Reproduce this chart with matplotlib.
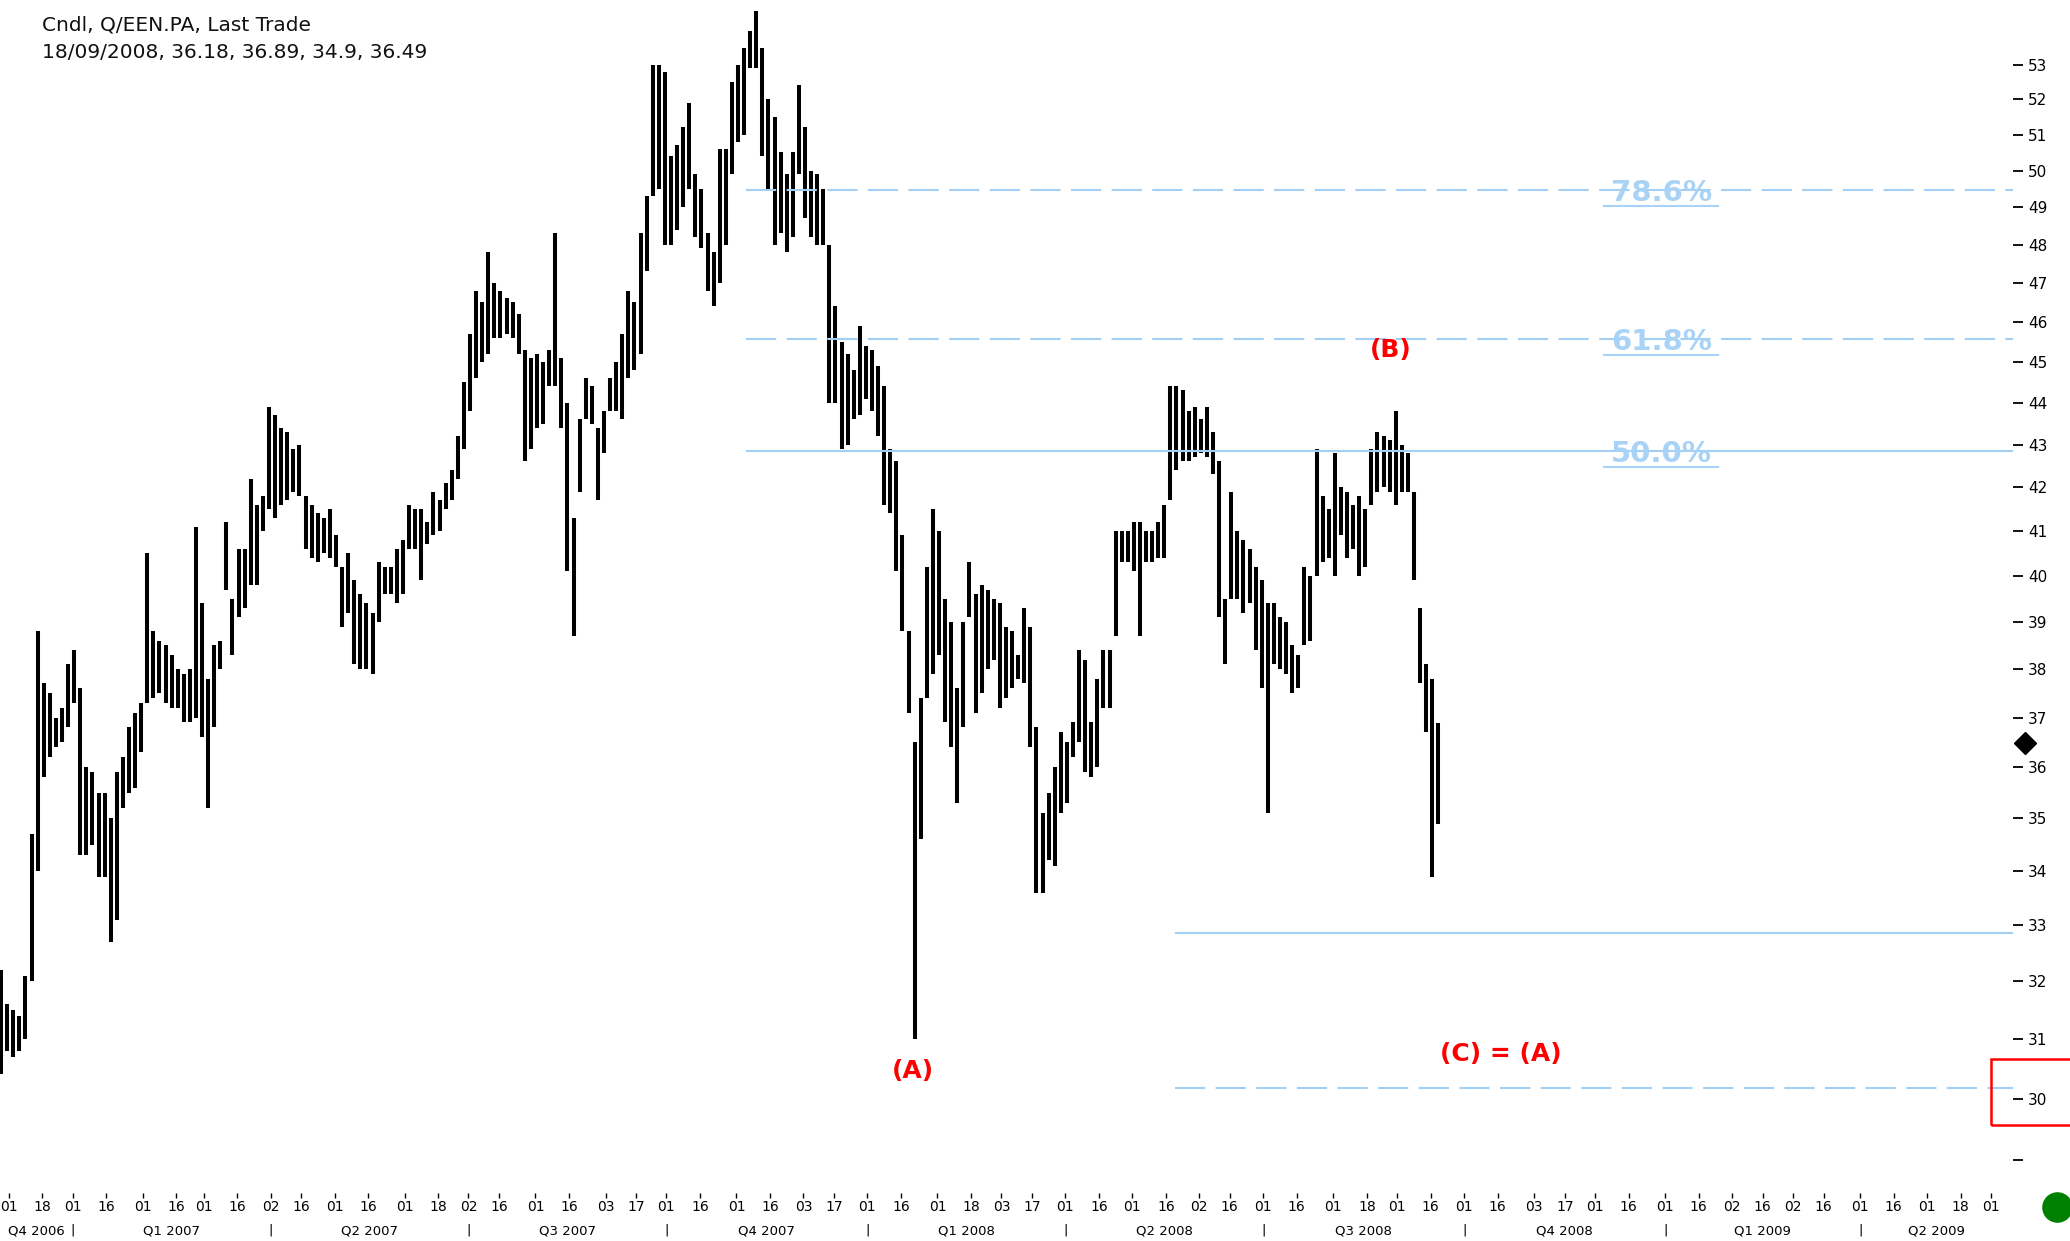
import numpy as np
import pandas as pd
import matplotlib
matplotlib.use("Agg")
import matplotlib.pyplot as plt
import matplotlib.transforms as mtransforms
from matplotlib.patches import Rectangle
from matplotlib.lines import Line2D
from matplotlib.ticker import FixedLocator, FixedFormatter, NullLocator

# ---------------------------------------------------------------------------
# price data : one bar = 2 trading days, first bar starts 28/11/2006
first_day = "2006-11-28"
days_per_bar = 2

bar_high = [
    32.2, 31.6, 31.5, 31.4, 32.1, 34.7, 38.8, 37.7, 37.5, 37.0,
    37.2, 38.1, 38.4, 37.6, 36.0, 35.9, 35.5, 35.5, 35.0, 35.9,
    36.2, 36.8, 37.1, 37.3, 40.5, 38.8, 38.6, 38.5, 38.3, 38.0,
    37.9, 38.0, 41.1, 39.4, 37.8, 38.5, 38.6, 41.2, 39.5, 40.6,
    40.6, 42.2, 41.6, 41.8, 43.9, 43.7, 43.4, 43.3, 42.9, 43.0,
    41.8, 41.6, 41.4, 41.3, 41.5, 40.9, 40.2, 40.5, 39.9, 39.6,
    39.4, 39.2, 40.3, 40.2, 40.2, 40.6, 40.8, 41.6, 41.5, 41.5,
    41.2, 41.9, 41.7, 42.1, 42.4, 43.2, 44.5, 45.7, 46.8, 46.5,
    47.8, 47.0, 46.8, 46.6, 46.5, 46.2, 45.3, 45.1, 45.2, 45.0,
    45.3, 48.3, 45.1, 44.0, 41.3, 43.6, 44.6, 44.4, 43.4, 43.8,
    44.6, 45.0, 45.7, 46.8, 46.5, 48.3, 49.3, 53.0, 53.0, 52.8,
    50.4, 50.7, 51.2, 51.9, 49.9, 49.5, 48.3, 47.8, 50.6, 50.6,
    52.5, 53.0, 53.5, 54.0, 54.6, 53.5, 52.0, 51.5, 50.5, 49.9,
    50.5, 52.4, 51.2, 50.0, 49.9, 49.5, 48.0, 46.4, 45.5, 45.2,
    44.8, 45.9, 45.4, 45.3, 44.9, 44.4, 42.9, 42.6, 40.9, 38.8,
    36.5, 37.4, 40.2, 41.5, 41.0, 39.5, 39.0, 37.6, 39.0, 40.3,
    39.6, 39.8, 39.7, 39.5, 39.4, 38.9, 38.8, 38.3, 39.3, 38.9,
    36.8, 35.1, 35.5, 36.0, 36.7, 36.5, 36.9, 38.4, 38.2, 36.9,
    37.8, 38.4, 38.4, 41.0, 41.0, 41.0, 41.2, 41.2, 41.0, 41.0,
    41.2, 41.6, 44.4, 44.4, 44.3, 43.8, 43.9, 43.6, 43.9, 43.3,
    42.6, 39.5, 41.9, 41.0, 40.8, 40.6, 40.2, 39.9, 39.4, 39.4,
    39.1, 39.0, 38.5, 38.3, 40.2, 40.0, 42.9, 41.8, 41.5, 42.8,
    42.0, 41.9, 41.6, 41.8, 41.5, 42.9, 43.3, 43.2, 43.1, 43.8,
    43.0, 42.8, 41.9, 39.3, 38.1, 37.8, 36.89,
]
bar_low = [
    30.4, 30.8, 30.7, 30.8, 31.0, 32.0, 34.0, 35.8, 36.2, 36.4,
    36.5, 36.8, 37.3, 34.3, 34.3, 34.5, 33.9, 33.9, 32.7, 33.1,
    35.2, 35.5, 35.6, 36.3, 37.3, 37.4, 37.5, 37.3, 37.2, 37.2,
    36.9, 36.9, 37.0, 36.6, 35.2, 36.8, 38.0, 39.7, 38.3, 39.1,
    39.3, 39.8, 39.8, 41.0, 41.5, 41.3, 41.6, 41.7, 41.9, 41.8,
    40.6, 40.4, 40.3, 40.5, 40.4, 40.2, 38.9, 39.2, 38.1, 38.0,
    38.0, 37.9, 39.0, 39.6, 39.6, 39.4, 39.6, 40.6, 40.6, 39.9,
    40.7, 40.9, 41.0, 41.5, 41.7, 42.2, 42.9, 43.8, 44.6, 45.0,
    45.2, 45.6, 45.6, 45.7, 45.6, 45.2, 42.6, 42.9, 43.4, 43.5,
    44.4, 44.4, 43.4, 40.1, 38.7, 41.9, 43.6, 43.5, 41.7, 42.8,
    43.8, 43.8, 43.6, 44.6, 44.8, 45.2, 47.3, 49.3, 49.5, 48.0,
    48.0, 48.4, 49.0, 49.5, 48.2, 47.9, 46.8, 46.4, 47.0, 48.0,
    49.9, 50.8, 51.0, 52.9, 52.9, 50.4, 49.5, 48.0, 48.3, 47.8,
    48.2, 49.9, 48.7, 48.2, 48.0, 48.0, 44.0, 44.0, 42.9, 43.0,
    43.6, 43.7, 44.1, 43.8, 43.2, 41.6, 41.4, 40.1, 38.8, 37.1,
    31.0, 34.6, 37.4, 37.9, 38.3, 36.9, 36.4, 35.3, 36.8, 39.1,
    37.1, 37.5, 38.0, 38.2, 37.2, 37.4, 37.6, 37.8, 37.7, 36.4,
    33.6, 33.6, 34.2, 34.1, 35.1, 35.3, 36.2, 36.5, 35.9, 35.8,
    36.0, 37.2, 37.2, 38.7, 40.3, 40.3, 40.1, 38.7, 40.3, 40.3,
    40.4, 40.4, 41.7, 42.4, 42.6, 42.6, 42.7, 42.8, 42.7, 42.3,
    39.1, 38.1, 39.5, 39.5, 39.2, 39.4, 38.4, 37.6, 35.1, 38.1,
    38.0, 37.9, 37.5, 37.6, 38.5, 38.6, 40.0, 40.3, 40.4, 40.0,
    40.9, 40.4, 40.6, 40.0, 40.2, 41.6, 41.9, 42.0, 41.9, 41.6,
    41.9, 41.9, 39.9, 37.7, 36.7, 33.9, 34.9,
]
last_trade = 36.49

# fibonacci retracement of the Nov07 -> Jan08 fall
swing_high = 54.4
swing_low = 31.3
fib_ratios = [0.786, 0.618, 0.5]
fib_labels = ["78.6%", "61.8%", "50.0%"]
fib_dashed = [True, True, False]
fib_start = "2007-11-06"

target_levels = [32.86, 30.17]
target_dashed = [False, True]
target_start = "2008-05-21"

wave_labels = ["(A)", "(B)", "(C) = (A)"]
wave_dates = ["2008-01-22", "2008-08-28", "2008-10-17"]
wave_prices = [30.45, 45.3, 30.75]

price_ticks = list(range(29, 54))
title_lines = ["Cndl, Q/EEN.PA, Last Trade", "18/09/2008, 36.18, 36.89, 34.9, 36.49"]

# ---------------------------------------------------------------------------
W, H = 2070, 1241
fig = plt.figure(figsize=(W / 100, H / 100), dpi=100, facecolor="white")
ax_bottom = 1193
ax_right = 2013
ax = fig.add_axes([0, 1 - ax_bottom / H, ax_right / W, ax_bottom / H])
ax.set_facecolor("white")

days = pd.bdate_range(first_day, "2009-12-31")
def day_pos(d):
    return days.searchsorted(pd.Timestamp(d))

x = np.arange(len(bar_high)) * days_per_bar + 0.5
ax.vlines(x, bar_low, bar_high, color="black", lw=2.9)

ax.set_yscale("log")
ax.set_ylim(28.48, 54.92)
ax.set_xlim(0.15, 661.2)

lblue = "#a3cff5"
dash = (0, (14.5, 5.0))
for r, lab, dsh in zip(fib_ratios, fib_labels, fib_dashed):
    lvl = swing_low + r * (swing_high - swing_low)
    ax.hlines(lvl, day_pos(fib_start), 661.2, color=lblue, lw=1.5,
              linestyle=dash if dsh else "-")
    tr = mtransforms.blended_transform_factory(ax.transAxes, ax.transData)
    ax.text(0.8255, lvl, lab, transform=mtransforms.offset_copy(tr, fig, y=-11, units="dots"),
            ha="center", va="baseline", fontsize=21, fontweight="bold", color="#a9d3f6")
    ax.plot([0.797, 0.8535], [lvl, lvl], color="#a9d3f6", lw=1.5,
            transform=mtransforms.offset_copy(tr, fig, y=-16, units="dots"))

for lvl, dsh in zip(target_levels, target_dashed):
    ax.hlines(lvl, day_pos(target_start), 661.2, color=lblue, lw=1.5,
              linestyle=dash if dsh else "-")

for lab, d, p in zip(wave_labels, wave_dates, wave_prices):
    ax.text(day_pos(d), p, lab, ha="center", va="center", fontsize=18,
            fontweight="bold", color="#ff0000")

# axes styling
for s in ax.spines.values():
    s.set_visible(False)
ax.yaxis.tick_right()
ax.yaxis.set_major_locator(FixedLocator(price_ticks))
ax.yaxis.set_major_formatter(FixedFormatter(["" if t == 29 else str(t) for t in price_ticks]))
ax.yaxis.set_minor_locator(NullLocator())
ax.tick_params(axis="y", which="major", length=7, width=1.3, pad=4, labelsize=11,
               colors="black")

# day ticks : first trading day on/after the 1st and the 16th
tick_x, tick_lab = [], []
for m in pd.date_range("2006-11-01", "2009-07-01", freq="MS"):
    for dd in (1, 16):
        t = m + pd.Timedelta(days=dd - 1)
        i = days.searchsorted(t)
        tick_x.append(i)
        tick_lab.append(days[i].strftime("%d"))
ax.xaxis.set_major_locator(FixedLocator(tick_x))
ax.xaxis.set_major_formatter(FixedFormatter(tick_lab))
ax.xaxis.set_minor_locator(NullLocator())
ax.tick_params(axis="x", which="major", length=3.5, width=1, pad=1.5, labelsize=10,
               colors="black")

# quarter row
xmin, xmax = ax.get_xlim()
qtr = mtransforms.blended_transform_factory(ax.transData, fig.transFigure)
qstarts = pd.date_range("2006-10-01", "2009-04-01", freq="QS")
for q in qstarts:
    a = days.searchsorted(q)
    b = days.searchsorted(q + pd.offsets.QuarterBegin(startingMonth=1))
    c = (max(a, xmin) + min(b, xmax)) / 2
    ax.text(c, 1 - 1224 / H, f"Q{q.quarter} {q.year}", transform=qtr, ha="center",
            va="top", fontsize=9.5, clip_on=False)
    if a > xmin:
        ax.text(a, 1 - 1224 / H, "|", transform=qtr, ha="center", va="top",
                fontsize=9.5, clip_on=False)

# last price marker on the price scale
dtr = mtransforms.blended_transform_factory(fig.transFigure, ax.transData)
ax.plot([2025 / W], [last_trade], marker="D", ms=11, color="black", transform=dtr,
        clip_on=False)

# red box around the 30 level
fig.add_artist(Rectangle((1991 / W, 1 - 1125 / H), 90 / W, 66 / H, fill=False,
                         edgecolor="#ff0000", lw=1.8, transform=fig.transFigure))
# green status dot
fig.add_artist(Line2D([2057 / W], [1 - 1207 / H], marker="o", ms=21, color="#008000",
                      transform=fig.transFigure))

for i, line in enumerate(title_lines):
    fig.text(42 / W, 1 - (25 + 27 * i) / H, line, ha="left", va="center", fontsize=14.5,
             color="#111111")

fig.savefig("out.png", dpi=100, facecolor="white")
